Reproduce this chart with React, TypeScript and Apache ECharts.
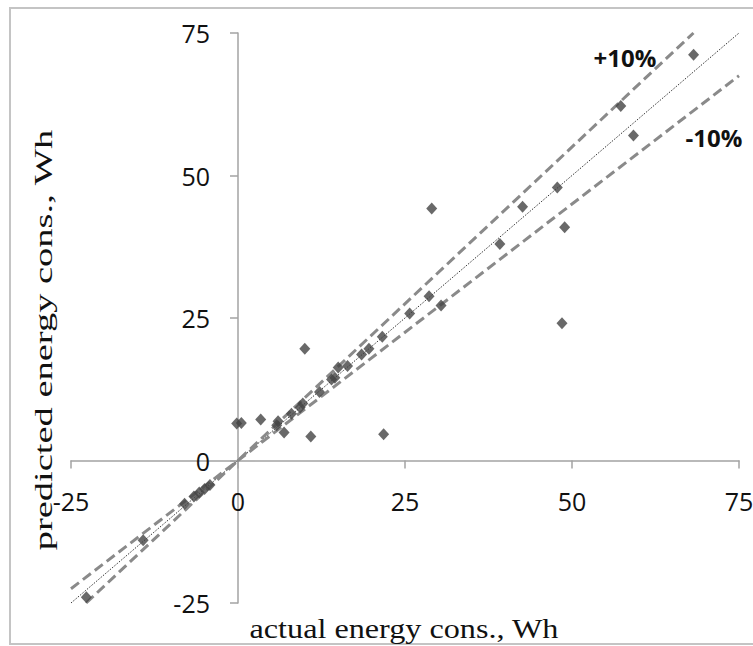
import React, { useEffect, useRef } from "react";
import * as echarts from "echarts";

// actual energy consumption (Wh)
const actual = [
  68.2, 57.3, 59.2, 47.8, 42.6, 29.0, 48.9, 39.2, 48.5, 28.6, 30.4, 25.7,
  21.6, 19.6, 18.5, 16.4, 15.0, 14.5, 14.0, 12.2, 10.0, 9.7, 9.3, 8.0,
  6.0, 5.8, 3.4, 0.5, -0.2, 6.9, 10.9, 21.8, -22.7, -14.2, -8.0, -6.6,
  -5.8, -5.0, -4.2,
];
// predicted energy consumption (Wh)
const predicted = [
  71.2, 62.2, 57.0, 47.9, 44.5, 44.2, 40.9, 38.0, 24.1, 28.8, 27.2, 25.8,
  21.7, 19.6, 18.6, 16.6, 16.3, 14.5, 14.2, 12.0, 19.6, 10.0, 9.3, 8.2,
  6.9, 6.2, 7.2, 6.6, 6.5, 4.9, 4.2, 4.6, -24.0, -14.0, -7.6, -6.3,
  -5.6, -5.0, -4.3,
];
const tickValues = [-25, 0, 25, 50, 75];
const axisMin = tickValues[0];
const axisMax = tickValues[tickValues.length - 1];
const tickStep = 25;
const bandFactors = [1.1, 0.9];
const bandLabels = ["+10%", "-10%"];

const W = 753;
const H = 646;
const G = { left: 71, right: 14, top: 33, bottom: 43 };

function clippedLine(k: number): number[][] {
  const x0 = Math.max(axisMin, axisMin / k);
  const x1 = Math.min(axisMax, axisMax / k);
  return [
    [x0, k * x0],
    [x1, k * x1],
  ];
}

export default function App() {
  const ref = useRef<HTMLDivElement>(null);
  useEffect(() => {
    if (!ref.current) return;
    const chart = echarts.init(ref.current, null, { renderer: "svg" });
    const axisColor = "#a3a3a3";
    const tickFont = {
      fontFamily: "'Open Sans', sans-serif",
      fontSize: 25,
      color: "#111",
    };
    const gridW = W - G.left - G.right;
    const gridH = H - G.top - G.bottom;
    const zeroFrac = (0 - axisMin) / (axisMax - axisMin);
    const points = actual.map((a, i) => [a, predicted[i]]);
    chart.setOption({
      animation: false,
      backgroundColor: "#fff",
      grid: { ...G, containLabel: false, outerBoundsMode: "none" },
      xAxis: {
        type: "value",
        min: axisMin,
        max: axisMax,
        interval: tickStep,
        offset: -zeroFrac * gridH,
        splitLine: { show: false },
        axisLine: { show: true, onZero: false, lineStyle: { color: axisColor, width: 1.5 } },
        axisTick: { show: true, length: 8, lineStyle: { color: axisColor, width: 1.5 } },
        axisLabel: { ...tickFont, margin: 28 },
      },
      yAxis: {
        type: "value",
        min: axisMin,
        max: axisMax,
        interval: tickStep,
        offset: -zeroFrac * gridW,
        splitLine: { show: false },
        axisLine: { show: true, onZero: false, lineStyle: { color: axisColor, width: 1.5 } },
        axisTick: { show: true, length: 8, lineStyle: { color: axisColor, width: 1.5 } },
        axisLabel: { ...tickFont, margin: 28 },
      },
      series: [
        {
          type: "line",
          data: clippedLine(1),
          symbol: "none",
          lineStyle: { color: "#333", width: 1, type: [1.5, 1.5] },
          z: 2,
        },
        ...bandFactors.map((k) => ({
          type: "line",
          data: clippedLine(k),
          symbol: "none",
          lineStyle: { color: "#8a8a8a", width: 3, type: [10, 5] },
          z: 2,
        })),
        {
          type: "scatter",
          data: points,
          symbol: "diamond",
          symbolSize: [11, 12],
          itemStyle: { color: "#444" },
          z: 3,
        },
      ],
      graphic: [
        {
          type: "rect",
          shape: { x: 10, y: 8, width: 780, height: 636 },
          style: { fill: "none", stroke: "#c4c4c4", lineWidth: 2 },
          z: -1,
        },
        {
          type: "text",
          x: 43,
          y: 340,
          rotation: Math.PI / 2,
          scaleX: 1.48,
          style: {
            text: "predicted energy cons., Wh",
            fontFamily: "'Liberation Serif', serif",
            fontSize: 26,
            fill: "#111",
            align: "center",
            verticalAlign: "middle",
          },
        },
        {
          type: "text",
          x: 404,
          y: 629,
          scaleX: 1.15,
          style: {
            text: "actual energy cons., Wh",
            fontFamily: "'Liberation Serif', serif",
            fontSize: 28,
            fill: "#111",
            align: "center",
            verticalAlign: "middle",
          },
        },
        {
          type: "text",
          x: 625,
          y: 57,
          style: {
            text: bandLabels[0],
            fontFamily: "'Open Sans', sans-serif",
            fontWeight: "bold",
            fontSize: 24,
            fill: "#111",
            align: "center",
            verticalAlign: "middle",
          },
        },
        {
          type: "text",
          x: 714,
          y: 137,
          style: {
            text: bandLabels[1],
            fontFamily: "'Open Sans', sans-serif",
            fontWeight: "bold",
            fontSize: 24,
            fill: "#111",
            align: "center",
            verticalAlign: "middle",
          },
        },
      ],
    });
    return () => chart.dispose();
  }, []);
  return (
    <div
      ref={ref}
      style={{ position: "absolute", left: 0, top: 0, width: W, height: H }}
    />
  );
}
